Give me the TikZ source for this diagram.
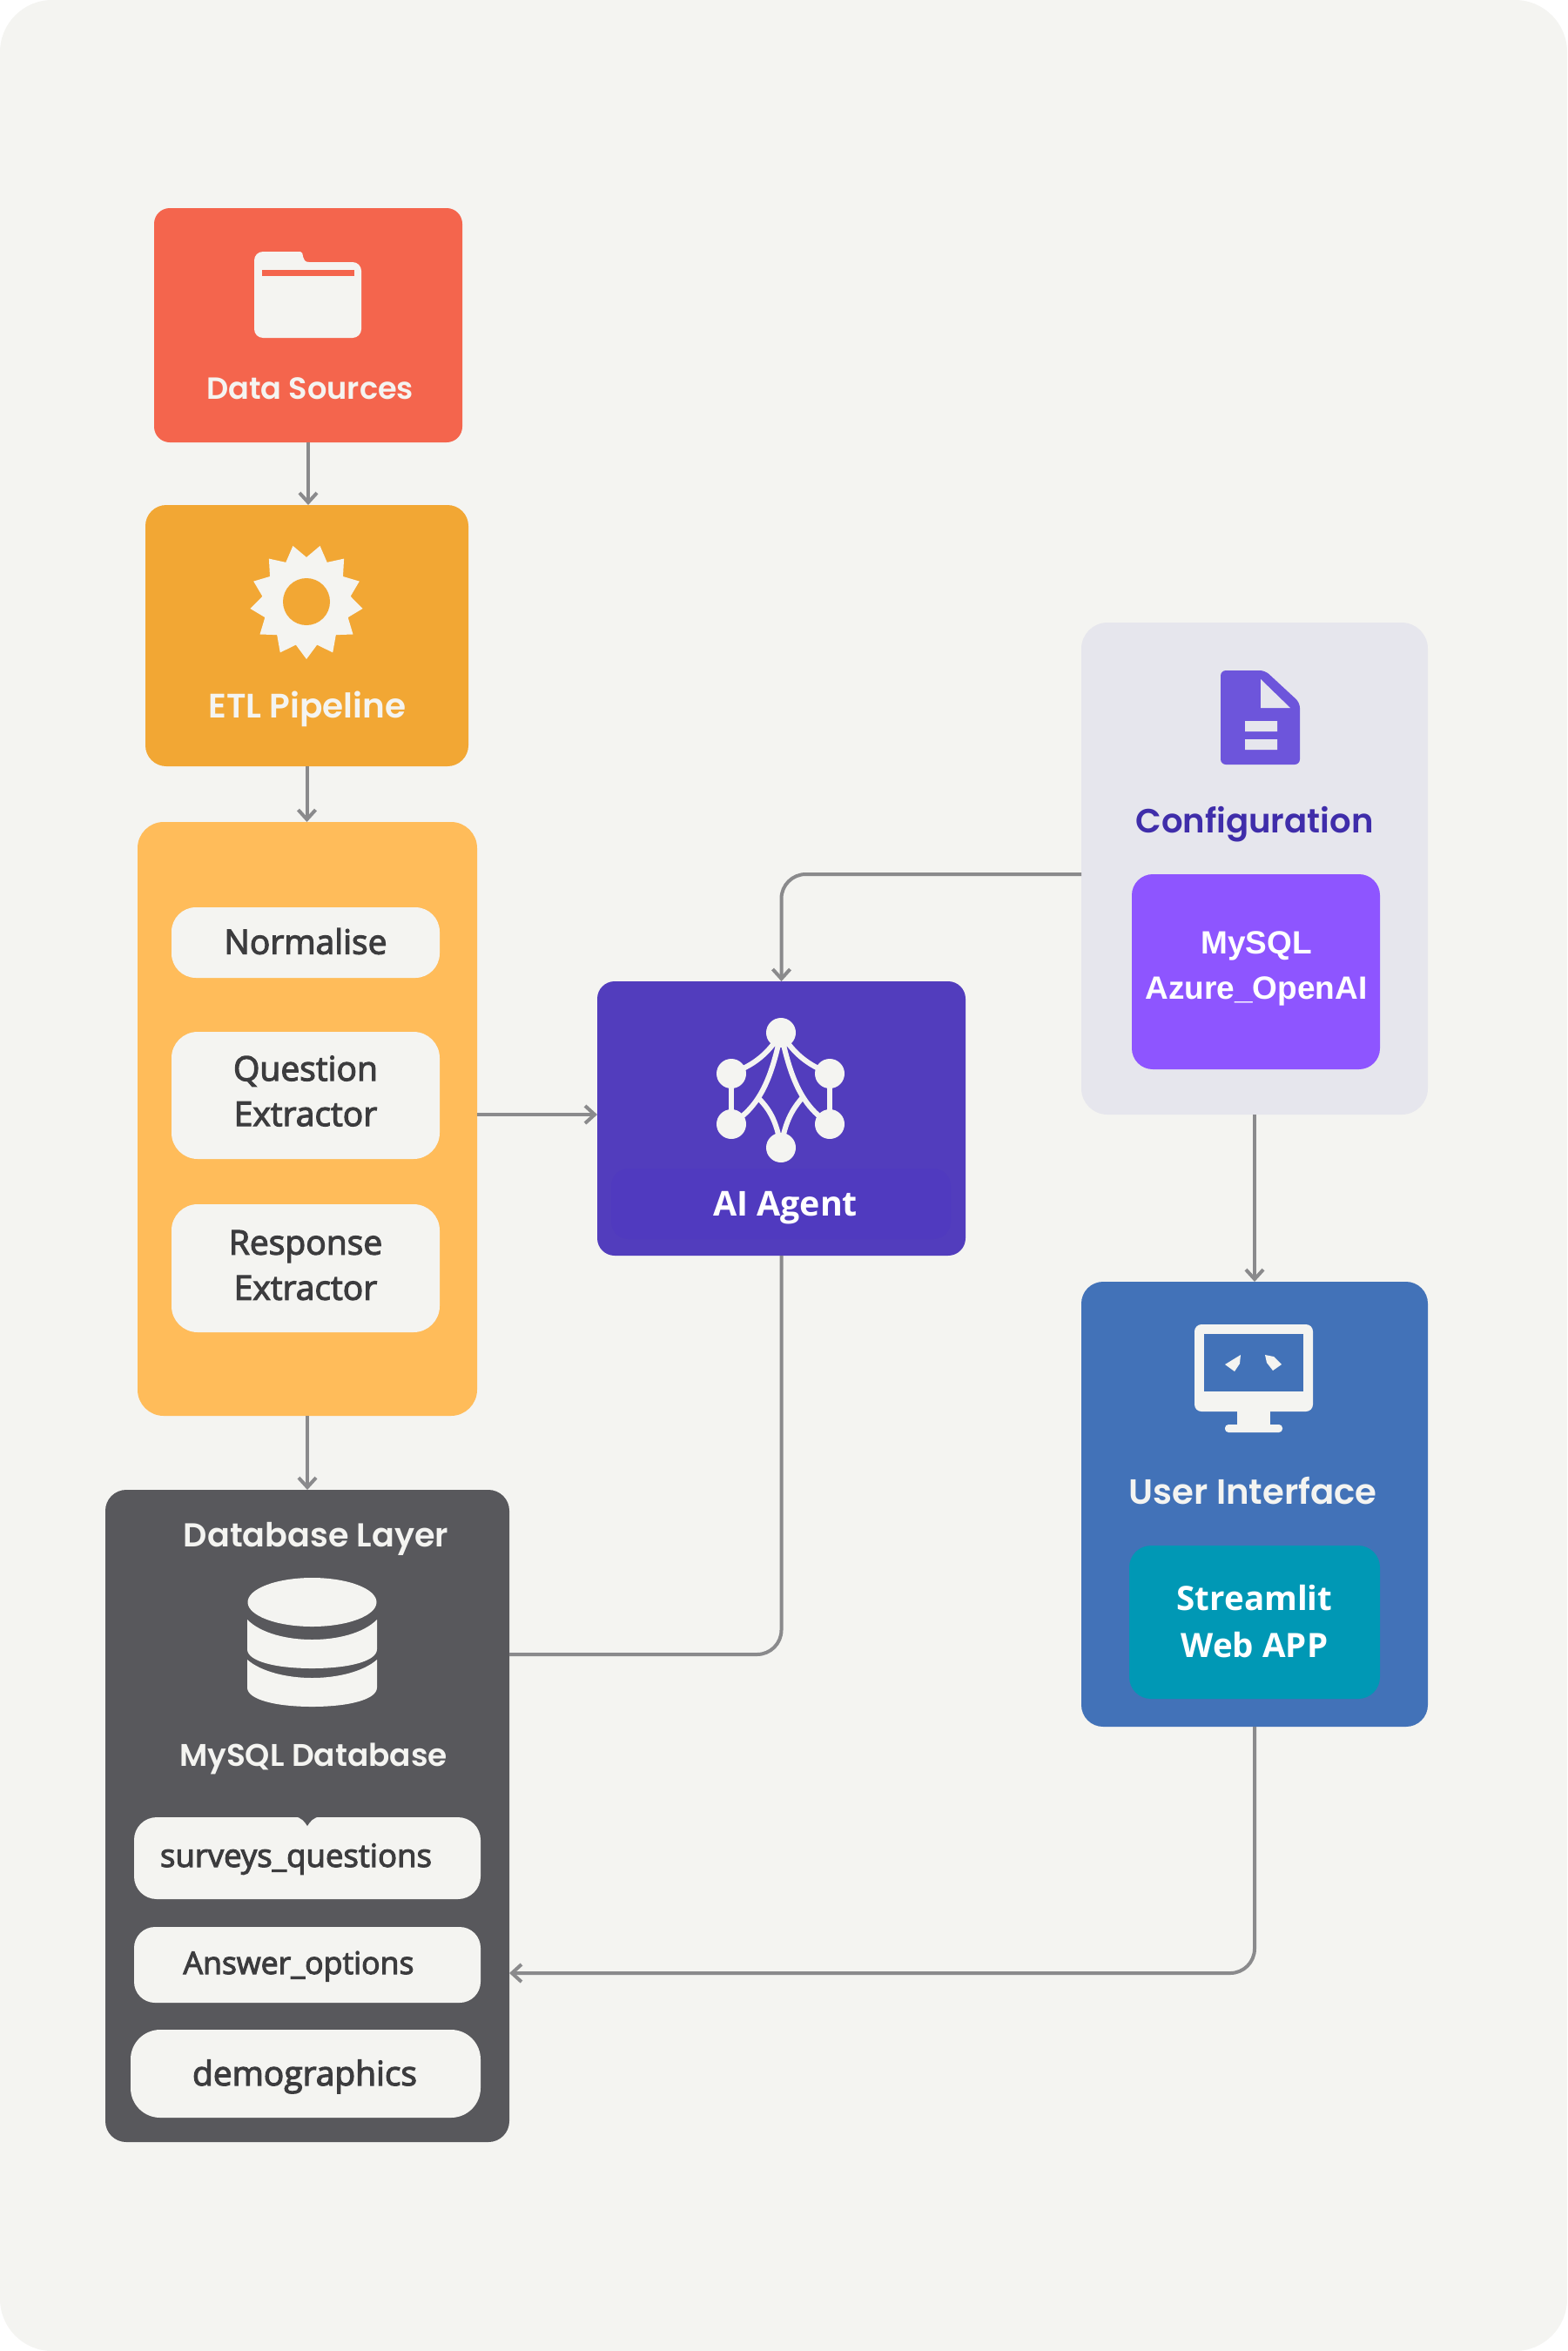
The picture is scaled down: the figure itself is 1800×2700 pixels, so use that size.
\documentclass[tikz,border=0pt]{standalone}
\usepackage{fontspec}
\usepackage{graphicx}
\usetikzlibrary{arrows.meta}
\setmainfont{Liberation Sans}
\newfontfamily\headf{Poppins SemiBold}
\newfontfamily\opsf{Open Sans}
\newfontfamily\opsemi[FakeBold=3]{Open Sans}
\newfontfamily\libf{Liberation Sans}
\definecolor{pagebg}{HTML}{F4F4F1}
\definecolor{dscol}{HTML}{F4654D}
\definecolor{etlcol}{HTML}{F2A734}
\definecolor{proccol}{HTML}{FFBC5A}
\definecolor{aicol}{HTML}{523DBD}
\definecolor{aiin}{HTML}{503ABF}
\definecolor{cfgcol}{HTML}{E6E6ED}
\definecolor{cfgic}{HTML}{6D55DB}
\definecolor{cfgtx}{HTML}{3F2DAA}
\definecolor{purp}{HTML}{8E55FF}
\definecolor{uicol}{HTML}{4272B8}
\definecolor{teal2}{HTML}{0098B5}
\definecolor{dbcol}{HTML}{58585C}
\definecolor{linec}{HTML}{8A8A8C}
\definecolor{darktx}{HTML}{3C3C3E}
\tikzset{
  panel/.style={rectangle,inner sep=0pt,outer sep=0pt,draw=none},
  lbl/.style={anchor=base,inner sep=0pt,outer sep=0pt},
  multi/.style={anchor=center,align=center,inner sep=0pt,outer sep=0pt},
  wire/.style={draw=linec,line width=4pt},
  arrow/.style={wire,-{Straight Barb[length=11pt,width=20pt,line width=4pt]}},
}
\newcommand{\rbox}[7]{\node[panel,fill=#7,rounded corners=#6pt,minimum width={(#4-#2)*1pt},minimum height={(#5-#3)*1pt}] (#1) at ({(#2+#4)/2},{(#3+#5)/2}) {};}
\newcommand{\fitw}[2]{\resizebox{#1pt}{!}{#2}}
\newcommand{\hd}{\headf\fontsize{40}{48}\selectfont}
\newcommand{\op}{\opsf\fontsize{40}{48}\selectfont\bfseries}
\newcommand{\ops}{\opsemi\fontsize{40}{48}\selectfont}
\begin{document}
\begin{tikzpicture}[x=1pt,y=-1pt]
\useasboundingbox (0,0) rectangle (1800,2700);
\fill[white] (0,0) rectangle (1800,2700);
\fill[pagebg,rounded corners=60pt] (0,0) rectangle (1800,2700);

% boxes
\rbox{ds}{177}{239}{531}{508}{18}{dscol}
\rbox{etl}{167}{580}{538}{880}{24}{etlcol}
\rbox{proc}{158}{944}{548}{1626}{30}{proccol}
\rbox{norm}{197}{1042}{505}{1123}{28}{pagebg}
\rbox{qext}{197}{1185}{505}{1331}{30}{pagebg}
\rbox{rext}{197}{1383}{505}{1530}{30}{pagebg}
\rbox{ai}{686}{1127}{1109}{1442}{20}{aicol}
\rbox{aiband}{702}{1342}{1092}{1423}{20}{aiin}
\rbox{cfg}{1242}{715}{1640}{1280}{30}{cfgcol}
\rbox{cfgin}{1300}{1004}{1585}{1228}{24}{purp}
\rbox{ui}{1242}{1472}{1640}{1983}{25}{uicol}
\rbox{uiin}{1297}{1775}{1585}{1951}{25}{teal2}
\rbox{db}{121}{1711}{585}{2460}{24}{dbcol}
\rbox{tqs}{154}{2087}{552}{2181}{26}{pagebg}
\rbox{tao}{154}{2213}{552}{2300}{24}{pagebg}
\rbox{tdm}{150}{2331}{552}{2432}{34}{pagebg}

% folder icon
\fill[pagebg,rounded corners=10pt] (292,289) -- (335,289) .. controls (350,289) and (345,301) .. (365,301) -- (415,301) -- (415,388) -- (292,388) -- cycle;
\fill[dscol] (301,310) rectangle (407,317);

% gear icon
\fill[pagebg] plot[variable=\t,samples at={0,...,25}] ({352+(mod(\t,2)==0?65:51)*sin(\t*360/26)},{691+(mod(\t,2)==0?66:51)*cos(\t*360/26)}) -- cycle;
\fill[etlcol] (352,691) circle[radius=27pt];

% network icon
\begin{scope}[draw=pagebg,line width=6pt]
\draw (897,1186) .. controls (880,1215) and (860,1225) .. (840,1233);
\draw (897,1186) .. controls (914,1215) and (934,1225) .. (953,1233);
\draw (897,1186) .. controls (885,1245) and (870,1272) .. (840,1291);
\draw (897,1186) .. controls (909,1245) and (924,1272) .. (953,1291);
\draw (870,1260) .. controls (882,1272) and (892,1285) .. (897,1318);
\draw (922,1260) .. controls (912,1272) and (902,1285) .. (897,1318);
\draw (840,1233) -- (840,1291);
\draw (953,1233) -- (953,1291);
\end{scope}
\fill[pagebg] (897,1186) circle[radius=17pt] (840,1233) circle[radius=17pt] (953,1233) circle[radius=17pt] (840,1291) circle[radius=17pt] (953,1291) circle[radius=17pt] (897,1318) circle[radius=17pt];

% file icon
\fill[cfgic,rounded corners=6pt] (1402,770) -- (1453,770) -- (1493,807) -- (1493,878) -- (1402,878) -- cycle;
\fill[cfgcol] (1448,780) -- (1448,813) -- (1482,813) -- cycle;
\fill[cfgcol] (1430,828) rectangle (1467,840) (1430,849) rectangle (1467,861);

% monitor icon
\fill[pagebg,rounded corners=8pt] (1372,1521) rectangle (1508,1621);
\fill[uicol] (1383,1532) rectangle (1497,1598);
\fill[pagebg] (1421,1615) rectangle (1459,1640);
\fill[pagebg,rounded corners=4pt] (1407,1636) rectangle (1473,1645);
\fill[pagebg] (1407,1567) -- (1425,1556) -- (1424,1566) -- (1418,1575) -- cycle;
\fill[pagebg] (1453,1556) -- (1463,1558) -- (1472,1567) -- (1462,1574) -- (1455,1565) -- cycle;

% database icon
\fill[pagebg] (358.5,1840) ellipse[x radius=74pt,y radius=28pt];
\fill[pagebg] (284,1860) .. controls (300,1876) and (330,1883) .. (358.5,1883) .. controls (387,1883) and (417,1876) .. (433,1860) -- (433,1894) .. controls (433,1908) and (400,1916) .. (358.5,1916) .. controls (317,1916) and (284,1908) .. (284,1894) -- cycle;
\fill[pagebg] (284,1906) .. controls (300,1920) and (330,1927) .. (358.5,1927) .. controls (387,1927) and (417,1920) .. (433,1906) -- (433,1938) .. controls (433,1952) and (400,1960) .. (358.5,1960) .. controls (317,1960) and (284,1952) .. (284,1938) -- cycle;
% notch in the first table
\fill[dbcol] (338,2086) .. controls (346,2087) and (350,2092) .. (353,2097) .. controls (356,2092) and (360,2087) .. (368,2086) -- cycle;

% labels
\node[lbl,text=pagebg] (tds) at (356,458) {\fitw{238}{\hd Data Sources}};
\node[lbl,text=pagebg] (tetl) at (353,824) {\fitw{227}{\hd ETL Pipeline}};
\node[multi,text=darktx,font=\opsemi\fontsize{39}{39}\selectfont] (tnorm) at (351,1081) {Normalise};
\node[multi,text=darktx,font=\opsemi\fontsize{39}{52}\selectfont] (tq) at (351,1253) {Question\\Extractor};
\node[multi,text=darktx,font=\opsemi\fontsize{39}{52}\selectfont] (tr) at (351,1453) {Response\\Extractor};
\node[lbl,text=white] (tai) at (902,1396) {\fitw{166}{\op AI Agent}};
\node[lbl,text=cfgtx] (tcfg) at (1441,956) {\fitw{273}{\hd Configuration}};
\node[multi,text=white,font=\libf\fontsize{37}{52}\selectfont\bfseries] (tcin) at (1443,1112) {MySQL\\Azure\_OpenAI};
\node[lbl,text=pagebg] (tui) at (1439,1727) {\fitw{285}{\hd User Interface}};
\node[multi,text=white,font=\opsf\fontsize{38.5}{54}\selectfont\bfseries] (tuin) at (1441,1862) {Streamlit\\Web APP};
\node[lbl,text=pagebg] (tdb) at (363,1776) {\fitw{304}{\hd Database Layer}};
\node[lbl,text=pagebg] (tmy) at (360,2028) {\fitw{308}{\hd MySQL Database}};
\node[lbl,text=darktx] (t1) at (340,2144) {\fitw{312}{\ops surveys\_questions}};
\node[lbl,text=darktx] (t2) at (343,2267) {\fitw{265}{\ops Answer\_options}};
\node[lbl,text=darktx] (t3) at (350,2395) {\fitw{258}{\ops demographics}};

% connectors
\coordinate (jproc) at (548,1280);
\coordinate (jcfg) at (1242,1004);
\coordinate (jaidb) at (585,1900);
\coordinate (juidb) at (585,2266);
\draw[arrow] (ds.south) -- (ds.south |- etl.north);
\draw[arrow] (etl.south) -- (etl.south |- proc.north);
\draw[arrow] (proc.south) -- (proc.south |- db.north);
\draw[arrow] (jproc) -- (jproc -| ai.west);
\draw[arrow,rounded corners=28pt] (jcfg) -| (ai.north);
\draw[wire,rounded corners=28pt] (ai.south) |- (jaidb);
\draw[arrow] (cfg.south) -- (ui.north);
\draw[arrow,rounded corners=28pt] (ui.south) |- (juidb);
\end{tikzpicture}
\end{document}
